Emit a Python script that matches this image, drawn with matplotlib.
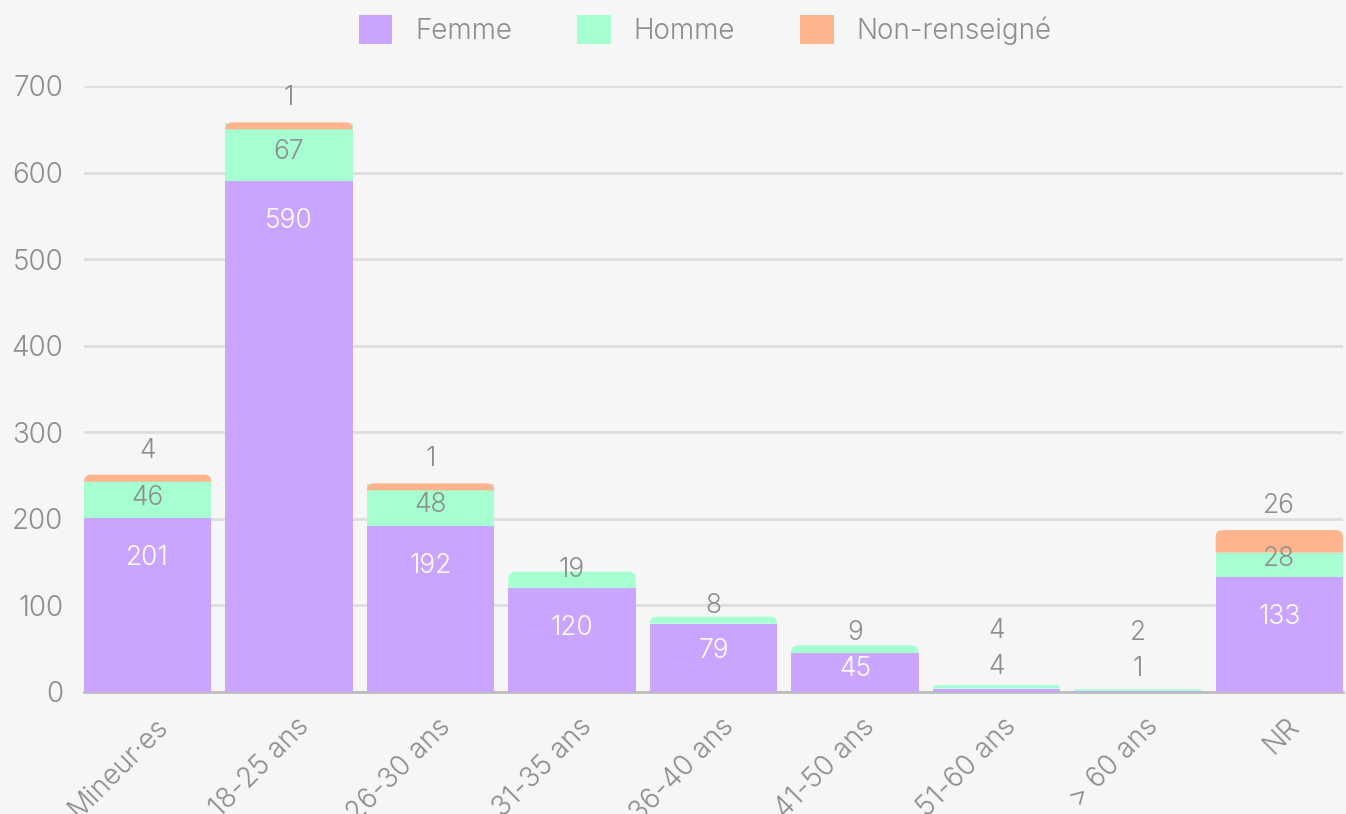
import matplotlib
matplotlib.use("Agg")
import matplotlib.pyplot as plt
from matplotlib.patches import Patch, PathPatch
from matplotlib.path import Path
from matplotlib.transforms import ScaledTranslation

plt.rcParams['font.family'] = ['Inter', 'DejaVu Sans']
plt.rcParams['font.weight'] = 300

# data
categories = ["Mineur·es", "18-25 ans", "26-30 ans", "31-35 ans", "36-40 ans",
              "41-50 ans", "51-60 ans", "> 60 ans", "NR"]
femme = [201, 590, 192, 120, 79, 45, 4, 1, 133]
homme = [46, 67, 48, 19, 8, 9, 4, 2, 28]
non_renseigne = [4, 1, 1, 0, 0, 0, 0, 0, 26]
series_names = ["Femme", "Homme", "Non-renseigné"]

c_femme = "#c9a5ff"
c_homme = "#a6ffd1"
c_nr = "#ffb48d"
grey = "#8e8e8e"
bg = "#f6f6f6"

fig = plt.figure(figsize=(13.46, 8.14), dpi=100, facecolor=bg)
ax = fig.add_axes([84 / 1346, 1 - 692 / 814, (1343 - 84) / 1346, (692 - 86) / 814])
ax.set_facecolor(bg)

x = list(range(len(categories)))
w = 0.9
base2 = [f + h for f, h in zip(femme, homme)]
b1 = ax.bar(x, femme, w, color=c_femme, zorder=3)
b2 = ax.bar(x, homme, w, bottom=femme, color=c_homme, zorder=3)
b3 = ax.bar(x, non_renseigne, w, bottom=base2, color=c_nr, zorder=3)

ax.set_xlim(-0.45, len(categories) - 0.55)
ax.set_ylim(0, 700)
ax.set_yticks(range(0, 701, 100))
ax.grid(axis='y', color='#dedede', linewidth=2, zorder=0)
for s in ['top', 'right', 'left']:
    ax.spines[s].set_visible(False)
ax.spines['bottom'].set_color('#bdbdbd')
ax.spines['bottom'].set_linewidth(2)
ax.spines['bottom'].set_zorder(2)
ax.tick_params(axis='y', length=0, pad=15, labelsize=20, labelcolor=grey)
ax.tick_params(axis='x', length=0, pad=22, labelsize=20, labelcolor=grey)
ax.set_xticks(x)
ax.set_xticklabels(categories, rotation=45, ha='right', va='center',
                   rotation_mode='anchor')
for lab in ax.get_xticklabels():
    lab.set_transform(lab.get_transform() + ScaledTranslation(0.16, 0, fig.dpi_scale_trans))

# pixel scale of the axes
k = ax.transData.transform((0, 1))[1] - ax.transData.transform((0, 0))[1]
kx = ax.transData.transform((1, 0))[0] - ax.transData.transform((0, 0))[0]

# round the top corners of the highest segment of each bar
containers = [b1, b2, b3]
values = [femme, homme, non_renseigne]
for i in x:
    top = max(j for j in range(3) if values[j][i] > 0)
    rect = containers[top][i]
    x0, y0 = rect.get_x(), rect.get_y()
    bw, bh = rect.get_width(), rect.get_height()
    total_px = (y0 + bh) * k
    r_px = min(7, total_px / 2)
    rx, ry = r_px / kx, r_px / k
    ylo = min(y0, y0 + bh - ry)
    verts = [(x0, ylo), (x0, y0 + bh - ry), (x0, y0 + bh), (x0 + rx, y0 + bh),
             (x0 + bw - rx, y0 + bh), (x0 + bw, y0 + bh), (x0 + bw, y0 + bh - ry),
             (x0 + bw, ylo), (x0, ylo)]
    codes = [Path.MOVETO, Path.LINETO, Path.CURVE3, Path.CURVE3, Path.LINETO,
             Path.CURVE3, Path.CURVE3, Path.LINETO, Path.CLOSEPOLY]
    rect.set_visible(False)
    ax.add_patch(PathPatch(Path(verts, codes), facecolor=rect.get_facecolor(),
                           edgecolor='none', zorder=3))

# value labels
fs = 19
for i in x:
    f, h, n = femme[i], homme[i], non_renseigne[i]
    fh = f * k
    if fh >= 20:
        fy = fh - min(40, 0.4 * fh)
        fcol = 'white'
    else:
        fy = fh + 22
        fcol = grey
    ax.annotate(str(f), (i, 0), xytext=(0, fy), textcoords='offset pixels',
                ha='center', va='center', fontsize=fs, color=fcol, zorder=5,
                annotation_clip=False)
    if h > 0:
        hh = h * k
        hy = fh + hh / 2 + max(0, 18 - hh / 2)
        hy = max(hy, fy + 36)
        ax.annotate(str(h), (i, 0), xytext=(0, hy), textcoords='offset pixels',
                    ha='center', va='center', fontsize=fs, color=grey, zorder=5,
                    annotation_clip=False)
    if n > 0:
        ny = (f + h + n) * k + 24
        ax.annotate(str(n), (i, 0), xytext=(0, ny), textcoords='offset pixels',
                    ha='center', va='center', fontsize=fs, color=grey, zorder=5,
                    annotation_clip=False)

handles = [Patch(facecolor=c, edgecolor='none', label=l)
           for c, l in zip([c_femme, c_homme, c_nr], series_names)]
fig.legend(handles=handles, loc='center', bbox_to_anchor=(0.524, 1 - 30 / 814),
           ncol=3, frameon=False, fontsize=20, labelcolor=grey,
           handlelength=1.2, handleheight=1.2, handletextpad=0.83,
           columnspacing=2.34)

fig.savefig("out.png", dpi=100, facecolor=bg)
